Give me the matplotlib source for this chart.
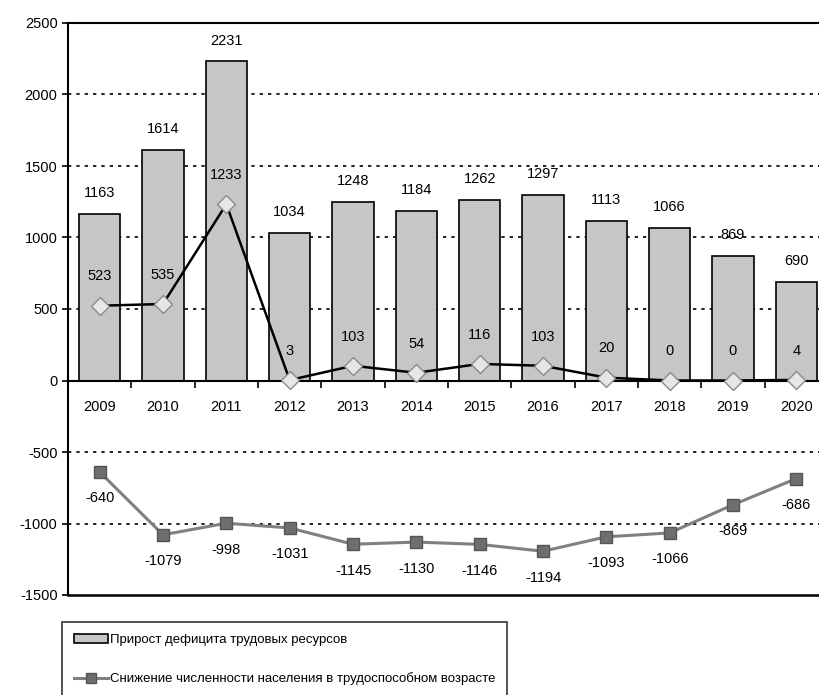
import matplotlib
matplotlib.use("Agg")
import matplotlib.pyplot as plt
from matplotlib.patches import Patch
from matplotlib.lines import Line2D

plt.rcParams['font.family'] = ['Liberation Sans', 'DejaVu Sans']
plt.rcParams['axes.unicode_minus'] = False

years = ['2009', '2010', '2011', '2012', '2013', '2014', '2015', '2016', '2017', '2018', '2019', '2020']
deficit = [1163, 1614, 2231, 1034, 1248, 1184, 1262, 1297, 1113, 1066, 869, 690]
line_top = [523, 535, 1233, 3, 103, 54, 116, 103, 20, 0, 0, 4]
decline = [-640, -1079, -998, -1031, -1145, -1130, -1146, -1194, -1093, -1066, -869, -686]

bar_label = 'Прирост дефицита трудовых ресурсов'
line_label = 'Снижение численности населения в трудоспособном возрасте'

x = list(range(len(years)))

fig = plt.figure(figsize=(8.19, 6.95), dpi=100)
ax = fig.add_axes([68/819, 1-595/695, 760/819, (595-23)/695])

for g in [2000, 1500, 1000, 500, -500, -1000]:
    ax.axhline(g, color='black', linestyle=(0, (2, 3)), linewidth=1.2, zorder=0)

ax.bar(x, deficit, width=0.65, color='#c6c6c6', edgecolor='black', linewidth=1.2, zorder=2)
ax.plot(x, line_top, color='black', linewidth=1.8, marker='D', markersize=9,
        markerfacecolor='#e6e6e6', markeredgecolor='#8a8a8a', zorder=3)
ax.plot(x, decline, color='#808080', linewidth=2.2, marker='s', markersize=9,
        markerfacecolor='#6e6e6e', markeredgecolor='#555555', zorder=3)

fs = 10.5
for i in x:
    ax.annotate(str(deficit[i]), (i, deficit[i]), xytext=(0, 10), textcoords='offset points',
                ha='center', va='bottom', fontsize=fs)
    ax.annotate(str(line_top[i]), (i, line_top[i]), xytext=(0, 16), textcoords='offset points',
                ha='center', va='bottom', fontsize=fs)
    ax.annotate(str(decline[i]), (i, decline[i]), xytext=(0, -14), textcoords='offset points',
                ha='center', va='top', fontsize=fs)

ax.set_xlim(-0.5, len(years) - 0.5)
ax.set_ylim(-1500, 2500)
ax.set_yticks(range(-1500, 2501, 500))
ax.tick_params(axis='y', labelsize=fs, length=4, width=1.2)

# category axis drawn along zero
ax.spines['bottom'].set_position(('data', 0))
ax.spines['bottom'].set_linewidth(1.5)
ax.set_xticks(x)
ax.set_xticklabels(years, fontsize=fs)
ax.set_xticks([i + 0.5 for i in x[:-1]], minor=True)
ax.tick_params(axis='x', which='major', length=0, pad=14)
ax.tick_params(axis='x', which='minor', length=5, width=1.2, direction='out')
ax.axhline(-1500, color='black', linewidth=1.8, zorder=4, clip_on=False)
for s in ['left', 'top', 'right']:
    ax.spines[s].set_linewidth(1.5)

handles = [Patch(facecolor='#c6c6c6', edgecolor='black', linewidth=1.2),
           Line2D([], [], color='#808080', linewidth=2.2, marker='s', markersize=7,
                  markerfacecolor='#6e6e6e', markeredgecolor='#555555')]
leg = fig.legend(handles, [bar_label, line_label], loc='upper left',
                 bbox_to_anchor=(62/819, 1-622/695), frameon=True, fancybox=False,
                 edgecolor='black', fontsize=9.5, handlelength=2.6, handletextpad=0.1,
                 labelspacing=2.0, borderpad=0.9, borderaxespad=0)
leg.get_frame().set_linewidth(1.2)

fig.savefig('out.png', dpi=100)
